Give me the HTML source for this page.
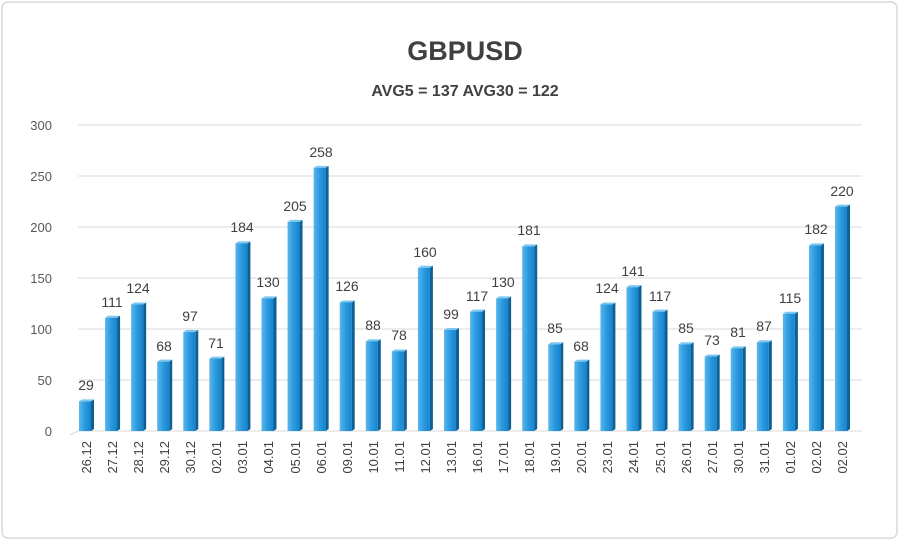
<!DOCTYPE html>
<html><head><meta charset="utf-8"><style>
html,body{margin:0;padding:0;background:#fff}
svg{display:block;font-family:"Liberation Sans",sans-serif}
</style></head><body>
<svg width="900" height="547" viewBox="0 0 900 547">
<defs>
<linearGradient id="g" x1="0" x2="1" y1="0" y2="0">
<stop offset="0" stop-color="#5cb6ea"/><stop offset="0.5" stop-color="#2a9ae0"/><stop offset="1" stop-color="#1683cb"/>
</linearGradient>
</defs>
<rect x="2" y="2" width="895" height="536" rx="6" fill="#fff" stroke="#d9d9d9" stroke-width="1.5"/>
<text x="465" y="60" font-size="27" font-weight="bold" fill="#404040" text-anchor="middle">GBPUSD</text>
<text x="465" y="96" font-size="16" font-weight="bold" fill="#404040" text-anchor="middle">AVG5 = 137 AVG30 = 122</text>
<g stroke="#d9d9d9" stroke-width="1">
<line x1="78" y1="431" x2="862" y2="431"/><line x1="70" y1="435" x2="78" y2="431"/>
<line x1="78" y1="380" x2="862" y2="380"/><line x1="78" y1="329" x2="862" y2="329"/>
<line x1="78" y1="278" x2="862" y2="278"/><line x1="78" y1="227" x2="862" y2="227"/>
<line x1="78" y1="176" x2="862" y2="176"/><line x1="78" y1="125" x2="862" y2="125"/>
</g>
<g font-size="13" fill="#595959" text-anchor="end">
<text x="52" y="436">0</text><text x="52" y="385">50</text><text x="52" y="334">100</text>
<text x="52" y="283">150</text><text x="52" y="232">200</text><text x="52" y="181">250</text><text x="52" y="130">300</text>
</g>
<g id="bars"></g>
<g font-size="14" fill="#404040" text-anchor="middle">
<text x="86" y="390">29</text><text x="112" y="307">111</text><text x="138" y="293">124</text>
<text x="164" y="351">68</text><text x="190" y="321">97</text><text x="216" y="348">71</text>
<text x="242" y="232">184</text><text x="268" y="287">130</text><text x="295" y="211">205</text>
<text x="321" y="157">258</text><text x="347" y="291">126</text><text x="373" y="330">88</text>
<text x="399" y="340">78</text><text x="425" y="257">160</text><text x="451" y="319">99</text>
<text x="477" y="301">117</text><text x="503" y="287">130</text><text x="529" y="235">181</text>
<text x="555" y="333">85</text><text x="581" y="351">68</text><text x="607" y="293">124</text>
<text x="633" y="276">141</text><text x="660" y="301">117</text><text x="686" y="333">85</text>
<text x="712" y="345">73</text><text x="738" y="337">81</text><text x="764" y="331">87</text>
<text x="790" y="303">115</text><text x="816" y="234">182</text><text x="842" y="196">220</text>
</g>
<g font-size="13" fill="#404040" text-anchor="end">
<text transform="translate(91,441) rotate(-90)">26.12</text>
<text transform="translate(117,441) rotate(-90)">27.12</text>
<text transform="translate(143,441) rotate(-90)">28.12</text>
<text transform="translate(169,441) rotate(-90)">29.12</text>
<text transform="translate(195,441) rotate(-90)">30.12</text>
<text transform="translate(221,441) rotate(-90)">02.01</text>
<text transform="translate(247,441) rotate(-90)">03.01</text>
<text transform="translate(273,441) rotate(-90)">04.01</text>
<text transform="translate(300,441) rotate(-90)">05.01</text>
<text transform="translate(326,441) rotate(-90)">06.01</text>
<text transform="translate(352,441) rotate(-90)">09.01</text>
<text transform="translate(378,441) rotate(-90)">10.01</text>
<text transform="translate(404,441) rotate(-90)">11.01</text>
<text transform="translate(430,441) rotate(-90)">12.01</text>
<text transform="translate(456,441) rotate(-90)">13.01</text>
<text transform="translate(482,441) rotate(-90)">16.01</text>
<text transform="translate(508,441) rotate(-90)">17.01</text>
<text transform="translate(534,441) rotate(-90)">18.01</text>
<text transform="translate(560,441) rotate(-90)">19.01</text>
<text transform="translate(586,441) rotate(-90)">20.01</text>
<text transform="translate(612,441) rotate(-90)">23.01</text>
<text transform="translate(638,441) rotate(-90)">24.01</text>
<text transform="translate(665,441) rotate(-90)">25.01</text>
<text transform="translate(691,441) rotate(-90)">26.01</text>
<text transform="translate(717,441) rotate(-90)">27.01</text>
<text transform="translate(743,441) rotate(-90)">30.01</text>
<text transform="translate(769,441) rotate(-90)">31.01</text>
<text transform="translate(795,441) rotate(-90)">01.02</text>
<text transform="translate(821,441) rotate(-90)">02.02</text>
<text transform="translate(847,441) rotate(-90)">02.02</text>
</g>
</svg>
<script>
var v=[29,111,124,68,97,71,184,130,205,258,126,88,78,160,99,117,130,181,85,68,124,141,117,85,73,81,87,115,182,220];
var g=document.getElementById('bars'),s='';
v.forEach(function(d,i){var c=86+26.07*i,t=431-d*1.02,x=c-7;
s+='<polygon points="'+(x+12)+','+t+' '+(x+15)+','+(t-2)+' '+(x+15)+',429 '+(x+12)+',431" fill="#0d5f94"/>';
s+='<polygon points="'+x+','+t+' '+(x+3)+','+(t-2)+' '+(x+15)+','+(t-2)+' '+(x+12)+','+t+'" fill="#7cc6f0"/>';
s+='<rect x="'+x+'" y="'+t+'" width="12" height="'+(431-t)+'" fill="url(#g)"/>';});
g.innerHTML=s;
</script>
</body></html>
